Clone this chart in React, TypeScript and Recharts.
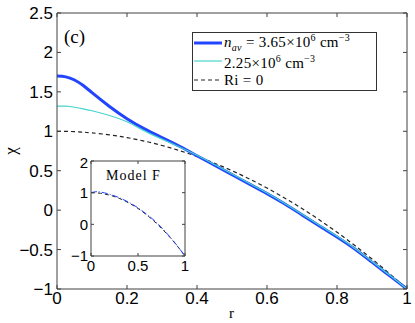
import { LineChart, Line, XAxis, YAxis, Legend } from "recharts";

// main panel: chi(r)
const rValues = [0, 0.025, 0.05, 0.075, 0.1, 0.15, 0.2, 0.25, 0.3, 0.35, 0.4, 0.45, 0.5, 0.55, 0.6, 0.65, 0.7, 0.75, 0.8, 0.85, 0.9, 0.95, 1];
const chiHigh = [1.7, 1.69, 1.65, 1.58, 1.49, 1.315, 1.16, 1.03, 0.92, 0.81, 0.69, 0.57, 0.45, 0.33, 0.21, 0.08, -0.06, -0.2, -0.34, -0.49, -0.66, -0.83, -1.0];
const chiLow = [1.32, 1.318, 1.305, 1.285, 1.26, 1.2, 1.12, 1.005, 0.9, 0.8, 0.695, 0.578, 0.458, 0.338, 0.218, 0.088, -0.052, -0.192, -0.332, -0.482, -0.652, -0.822, -1.0];
const chiRi0 = [1.0, 0.999, 0.995, 0.989, 0.98, 0.955, 0.92, 0.875, 0.82, 0.755, 0.68, 0.595, 0.5, 0.395, 0.28, 0.155, 0.02, -0.125, -0.28, -0.445, -0.62, -0.805, -1.0];

const rTicks = [0, 0.2, 0.4, 0.6, 0.8, 1];
const chiTicks = [-1, -0.5, 0, 0.5, 1, 1.5, 2, 2.5];

// inset: Model F
const insetR = [0, 0.05, 0.1, 0.2, 0.3, 0.4, 0.5, 0.6, 0.7, 0.8, 0.9, 1];
const insetModelF = [1.0, 1.03, 1.02, 0.95, 0.84, 0.7, 0.52, 0.3, 0.05, -0.26, -0.61, -1.0];
const insetRi0 = [1.0, 0.995, 0.98, 0.92, 0.82, 0.68, 0.5, 0.28, 0.02, -0.28, -0.62, -1.0];
const insetRTicks = [0, 0.5, 1];
const insetChiTicks = [-1, 0, 1, 2];

const mainData = rValues.map((r, i) => ({ r, high: chiHigh[i], low: chiLow[i], ri0: chiRi0[i] }));
const insetData = insetR.map((r, i) => ({ r, modelF: insetModelF[i], ri0: insetRi0[i] }));

const AXIS = "#404040";
const BLUE = "#2244ff";
const CYAN = "#45d4cc";
const SANS = "'Liberation Sans', Arial, sans-serif";
const SERIF = "'Liberation Serif', 'DejaVu Serif', serif";

const fmt = (v: number) => String(v).replace("-", "\u2212");
const blank = () => "";

const legendRows: Record<string, React.ReactNode> = {
  high: (
    <>
      <i>n</i>
      <sub style={{ fontSize: 10, fontStyle: "italic" }}>av</sub> = 3.65×10
      <sup style={{ fontSize: 10 }}>6</sup>&nbsp;cm<sup style={{ fontSize: 10 }}>−3</sup>
    </>
  ),
  low: (
    <>
      2.25×10<sup style={{ fontSize: 10 }}>6</sup>&nbsp;cm<sup style={{ fontSize: 10 }}>−3</sup>
    </>
  ),
  ri0: <>Ri = 0</>,
};

const renderLegend = (props: any) => {
  const items = (props.payload || []).filter((p: any) => legendRows[p.dataKey]);
  return (
    <div
      style={{
        border: "1px solid #333",
        background: "#fff",
        padding: "1px 0 1px 1px",
        fontFamily: SERIF,
        fontSize: 15,
        letterSpacing: 0.3,
        color: "#000",
        textAlign: "left",
      }}
    >
      {items.map((p: any) => (
        <div key={p.dataKey} style={{ display: "flex", alignItems: "center", height: 18.3, lineHeight: "14px" }}>
          <svg width={28} height={10} style={{ marginRight: 2, flex: "none" }}>
            <line
              x1={0}
              x2={28}
              y1={5}
              y2={5}
              stroke={p.color}
              strokeWidth={p.dataKey === "high" ? 3 : 1.2}
              strokeDasharray={p.dataKey === "ri0" ? "4 3" : undefined}
            />
          </svg>
          <span style={{ whiteSpace: "nowrap" }}>{legendRows[p.dataKey]}</span>
        </div>
      ))}
    </div>
  );
};

const App = () => {
  return (
    <div style={{ position: "absolute", left: 0, top: 0, width: 415, height: 323, background: "#fff" }}>
      <LineChart width={415} height={323} data={mainData} margin={{ top: 12, right: 7, left: 0, bottom: 0 }}>
        <XAxis
          dataKey="r"
          type="number"
          domain={[0, 1]}
          ticks={rTicks}
          tickFormatter={fmt}
          height={34}
          tickSize={-4}
          tickMargin={7}
          stroke={AXIS}
          tick={{ fontFamily: SANS, fontSize: 17, fill: "#000" }}
          allowDataOverflow
        />
        <XAxis
          xAxisId="top"
          orientation="top"
          dataKey="r"
          type="number"
          domain={[0, 1]}
          ticks={rTicks}
          tickFormatter={blank}
          height={1}
          tickSize={-4}
          stroke={AXIS}
          allowDataOverflow
        />
        <YAxis
          type="number"
          domain={[-1, 2.5]}
          ticks={chiTicks}
          tickFormatter={fmt}
          width={57}
          tickSize={-4}
          tickMargin={8}
          stroke={AXIS}
          tick={{ fontFamily: SANS, fontSize: 17, fill: "#000" }}
          allowDataOverflow
        />
        <YAxis
          yAxisId="right"
          orientation="right"
          type="number"
          domain={[-1, 2.5]}
          ticks={chiTicks}
          tickFormatter={blank}
          width={1}
          tickSize={-4}
          stroke={AXIS}
          allowDataOverflow
        />
        <Legend
          layout="horizontal"
          verticalAlign="middle"
          align="center"
          content={renderLegend}
          wrapperStyle={{ left: 192, top: 32, width: 185 }}
        />
        <Line dataKey="ri0" type="natural" stroke="#222" strokeWidth={1.2} strokeDasharray="4 3" dot={false} isAnimationActive={false} />
        <Line dataKey="high" type="natural" stroke={BLUE} strokeWidth={3} dot={false} isAnimationActive={false} />
        <Line dataKey="low" type="natural" stroke={CYAN} strokeWidth={1.2} dot={false} isAnimationActive={false} />
      </LineChart>

      <div style={{ position: "absolute", left: 70, top: 154 }}>
        <LineChart width={125} height={121} data={insetData} margin={{ top: 6, right: 9, left: 0, bottom: 0 }}>
          <XAxis
            dataKey="r"
            type="number"
            domain={[0, 1]}
            ticks={insetRTicks}
            tickFormatter={fmt}
            height={19}
            tickSize={-3}
            tickMargin={7}
            stroke={AXIS}
            tick={{ fontFamily: SANS, fontSize: 15, fill: "#000" }}
            allowDataOverflow
          />
          <XAxis
            xAxisId="top"
            orientation="top"
            dataKey="r"
            type="number"
            domain={[0, 1]}
            ticks={insetRTicks}
            tickFormatter={blank}
            height={1}
            tickSize={-3}
            stroke={AXIS}
            allowDataOverflow
          />
          <YAxis
            type="number"
            domain={[-1, 2]}
            ticks={insetChiTicks}
            tickFormatter={fmt}
            width={21}
            tickSize={-3}
            tickMargin={6}
            stroke={AXIS}
            tick={{ fontFamily: SANS, fontSize: 15, fill: "#000" }}
            allowDataOverflow
          />
          <YAxis
            yAxisId="right"
            orientation="right"
            type="number"
            domain={[-1, 2]}
            ticks={insetChiTicks}
            tickFormatter={blank}
            width={1}
            tickSize={-3}
            stroke={AXIS}
            allowDataOverflow
          />
          <Line dataKey="ri0" type="natural" stroke="#222" strokeWidth={1} strokeDasharray="4 3" dot={false} isAnimationActive={false} />
          <Line dataKey="modelF" type="natural" stroke={BLUE} strokeWidth={1} strokeDasharray="6 2 1 2" dot={false} isAnimationActive={false} />
        </LineChart>
      </div>

      <div style={{ position: "absolute", left: 64, top: 26, fontFamily: SERIF, fontSize: 19 }}>(c)</div>
      <div style={{ position: "absolute", left: 106, top: 168, fontFamily: SERIF, fontSize: 14, letterSpacing: 1 }}>
        Model F
      </div>
      <div style={{ position: "absolute", left: 229, top: 305, fontFamily: SERIF, fontSize: 15 }}>r</div>
      <div
        style={{
          position: "absolute",
          left: 7,
          top: 141,
          fontFamily: SERIF,
          fontSize: 17,
          transform: "rotate(-90deg)",
        }}
      >
        χ
      </div>
    </div>
  );
};

export default App;
